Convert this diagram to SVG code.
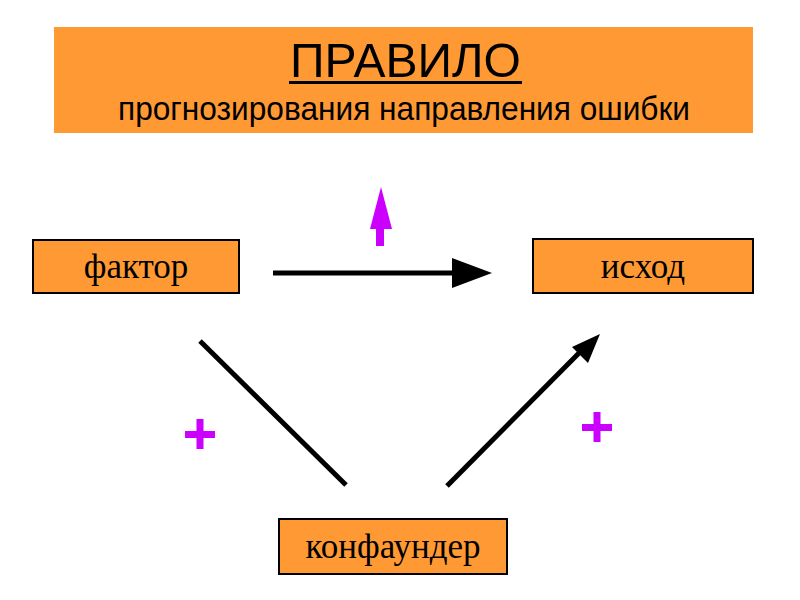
<svg xmlns="http://www.w3.org/2000/svg" width="800" height="600" viewBox="0 0 800 600">
<style>
.box{fill:#FF9933;stroke:#000;stroke-width:2}
.lbl{font-family:"Liberation Serif",serif;font-size:35px;fill:#000;text-anchor:middle}
.conn{stroke:#000;stroke-width:5;fill:none;stroke-linecap:butt}
.plus{fill:#CC00FF}
</style>
<rect width="800" height="600" fill="#fff"/>
<g id="header">
<rect x="54" y="27" width="699" height="106" fill="#FF9933"/>
<text x="290" y="77" font-family="'Liberation Sans',sans-serif" font-size="48" textLength="231" lengthAdjust="spacingAndGlyphs">ПРАВИЛО</text>
<rect x="289" y="81" width="233" height="3" fill="#000"/>
<text x="118" y="120" font-family="'Liberation Sans',sans-serif" font-size="33" textLength="572" lengthAdjust="spacingAndGlyphs">прогнозирования направления ошибки</text>
</g>
<g id="factor"><rect class="box" x="33" y="240" width="206" height="53"/><text class="lbl" x="136" y="278">фактор</text></g>
<g id="outcome"><rect class="box" x="533" y="239" width="220" height="54"/><text class="lbl" x="643" y="278">исход</text></g>
<g id="confounder"><rect class="box" x="279" y="519" width="228" height="55"/><text class="lbl" x="393" y="558">конфаундер</text></g>
<g id="connectors">
<line class="conn" x1="273" y1="273" x2="460" y2="273"/>
<polygon points="452,258 492,273 452,288" fill="#000"/>
<line class="conn" x1="200" y1="341" x2="346" y2="485" stroke-width="4"/>
<line class="conn" x1="447" y1="486" x2="584" y2="348" stroke-width="4"/>
<polygon points="600,334 588,363 572,347" fill="#000"/>
</g>
<g id="marks">
<rect x="376" y="226" width="8" height="20" fill="#CC00FF"/>
<polygon points="381,187 392,229 370,229" fill="#CC00FF"/>
<rect class="plus" x="185" y="431" width="30" height="7"/>
<rect class="plus" x="196.5" y="419" width="7" height="30"/>
<rect class="plus" x="582" y="424" width="30" height="7"/>
<rect class="plus" x="593.5" y="412" width="7" height="30"/>
</g>
</svg>
